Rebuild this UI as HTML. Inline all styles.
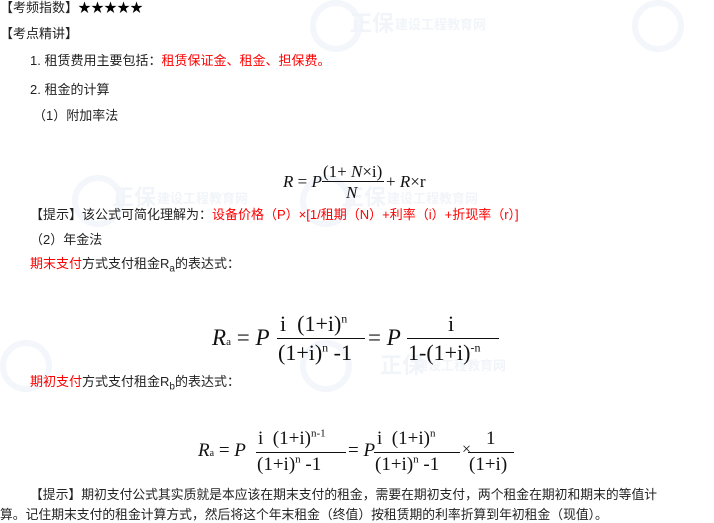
<!DOCTYPE html>
<html><head><meta charset="utf-8"><style>
body{margin:0;width:714px;height:523px;background:#fff;position:relative;overflow:hidden;font-family:"Liberation Sans","Noto Sans CJK SC",sans-serif;font-size:13px;color:#222}
.a{position:absolute;white-space:nowrap;line-height:15px}
.r{color:#f00}
.m{position:absolute;font-family:"Liberation Serif",serif;white-space:nowrap;color:#111;line-height:1}
.m sup{line-height:0;vertical-align:0.7em}
.ln{position:absolute;height:1px;background:#111}
.wm{position:absolute;color:#f1f5f9;font-weight:bold;white-space:nowrap}
.c{position:absolute;border-radius:50%;border:6px solid #f3f6fa}
sub{line-height:0}
</style></head><body>
<div class="c" style="left:310px;top:0;width:40px;height:40px"></div>
<div class="wm" style="left:350px;top:6px;font-size:22px">正保</div>
<div class="wm" style="left:395px;top:14px;font-size:13px">建设工程教育网</div>
<div class="c" style="left:632px;top:0;width:40px;height:40px"></div>
<div class="c" style="left:72px;top:175px;width:40px;height:40px"></div>
<div class="wm" style="left:112px;top:180px;font-size:22px">正保</div>
<div class="wm" style="left:157px;top:188px;font-size:13px">建设工程教育网</div>
<div class="c" style="left:300px;top:175px;width:40px;height:40px"></div>
<div class="wm" style="left:342px;top:180px;font-size:22px">正保</div>
<div class="wm" style="left:387px;top:188px;font-size:13px">建设工程教育网</div>
<div class="c" style="left:0;top:340px;width:40px;height:40px"></div>
<div class="c" style="left:300px;top:340px;width:40px;height:40px"></div>
<div class="wm" style="left:380px;top:348px;font-size:22px">正保</div>
<div class="wm" style="left:415px;top:355px;font-size:13px">建设工程教育网</div>

<div class="a" style="left:0;top:0">【考频指数】<span style="color:#000">★★★★★</span></div>
<div class="a" style="left:0;top:26px">【考点精讲】</div>
<div class="a" style="left:30px;top:53px">1. 租赁费用主要包括：<span class="r">租赁保证金、租金、担保费。</span></div>
<div class="a" style="left:30px;top:82px">2. 租金的计算</div>
<div class="a" style="left:33px;top:108px">（1）附加率法</div>

<div class="m" style="left:283px;top:173px;font-size:17px"><i>R</i> = <i>P</i></div>
<div class="m" style="left:323px;top:163px;font-size:17px">(1+ <i>N</i>×i)</div>
<div class="ln" style="left:322px;top:181px;width:62px"></div>
<div class="m" style="left:346px;top:184px;font-size:17px"><i>N</i></div>
<div class="m" style="left:386px;top:173px;font-size:17px">+ <i>R</i>×r</div>

<div class="a" style="left:30px;top:207px">【提示】该公式可简化理解为：<span class="r">设备价格（P）×[1/租期（N）+利率（i）+折现率（r）]</span></div>
<div class="a" style="left:30px;top:232px">（2）年金法</div>
<div class="a" style="left:30px;top:256px"><span class="r">期末支付</span>方式支付租金R<sub style="font-size:10px">a</sub>的表达式：</div>

<div class="m" style="left:212px;top:326px;font-size:23px"><i>R</i><span style="font-size:11px">a</span> = <i>P</i></div>
<div class="m" style="left:280px;top:313px;font-size:22px">i &nbsp;(1+i)<sup style="font-size:12px">n</sup></div>
<div class="ln" style="left:277px;top:338px;width:88px"></div>
<div class="m" style="left:278px;top:342px;font-size:22px">(1+i)<sup style="font-size:12px">n</sup> -1</div>
<div class="m" style="left:368px;top:326px;font-size:23px">= <i>P</i></div>
<div class="m" style="left:448px;top:313px;font-size:22px">i</div>
<div class="ln" style="left:407px;top:338px;width:92px"></div>
<div class="m" style="left:408px;top:342px;font-size:22px">1-(1+i)<sup style="font-size:12px">-n</sup></div>

<div class="a" style="left:30px;top:374px"><span class="r">期初支付</span>方式支付租金R<sub style="font-size:10px">b</sub>的表达式：</div>

<div class="m" style="left:198px;top:441px;font-size:19px"><i>R</i><span style="font-size:10px">a</span> = <i>P</i></div>
<div class="m" style="left:258px;top:429px;font-size:19px">i &nbsp;(1+i)<sup style="font-size:11px">n-1</sup></div>
<div class="ln" style="left:256px;top:452px;width:90px"></div>
<div class="m" style="left:257px;top:455px;font-size:19px">(1+i)<sup style="font-size:11px">n</sup> -1</div>
<div class="m" style="left:348px;top:441px;font-size:19px">= <i>P</i></div>
<div class="m" style="left:377px;top:429px;font-size:19px">i &nbsp;(1+i)<sup style="font-size:11px">n</sup></div>
<div class="ln" style="left:374px;top:452px;width:86px"></div>
<div class="m" style="left:375px;top:455px;font-size:19px">(1+i)<sup style="font-size:11px">n</sup> -1</div>
<div class="m" style="left:462px;top:442px;font-size:16px">×</div>
<div class="m" style="left:486px;top:429px;font-size:19px">1</div>
<div class="ln" style="left:468px;top:452px;width:46px"></div>
<div class="m" style="left:469px;top:455px;font-size:19px">(1+i)</div>

<div class="a" style="left:30px;top:487px;font-size:12.8px">【提示】期初支付公式其实质就是本应该在期末支付的租金，需要在期初支付，两个租金在期初和期末的等值计</div>
<div class="a" style="left:0;top:507px;font-size:12.8px">算。记住期末支付的租金计算方式，然后将这个年末租金（终值）按租赁期的利率折算到年初租金（现值）。</div>
</body></html>
